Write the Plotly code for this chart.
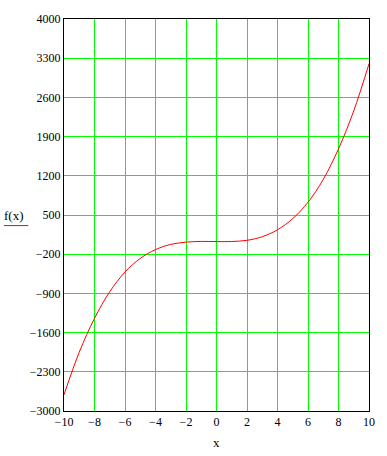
import plotly.graph_objects as go

x_vals = [-10, -9, -8, -7, -6, -5, -4, -3, -2, -1, 0, 1, 2, 3, 4, 5, 6, 7, 8, 9, 10]
f_vals = [-2710, -1950, -1345, -870, -520, -275, -118, -25, 15, 28, 25, 27, 48, 112, 236, 435, 728, 1135, 1680, 2360, 3200]

x_ticks = [-10, -8, -6, -4, -2, 0, 2, 4, 6, 8, 10]
y_ticks = [-3000, -2300, -1600, -900, -200, 500, 1200, 1900, 2600, 3300, 4000]

FONT = "Liberation Serif"
GREEN = "#00ff00"

fig = go.Figure()
fig.add_trace(go.Scatter(
    x=x_vals, y=f_vals, mode="lines",
    line=dict(color="#ff0000", width=1, shape="spline"),
    showlegend=False, hoverinfo="skip",
))

axis_common = dict(
    showline=True, linecolor="black", linewidth=1, mirror=True,
    showgrid=True, gridcolor=GREEN, gridwidth=1,
    zeroline=False, ticks="", tickfont=dict(family=FONT, size=12, color="black"),
)

fig.update_layout(
    width=387, height=456,
    margin=dict(l=64, r=14, t=13, b=45),
    paper_bgcolor="white", plot_bgcolor="white",
    font=dict(family=FONT, size=12, color="black"),
    xaxis=dict(range=[-10, 10], tickvals=x_ticks, **axis_common),
    yaxis=dict(range=[-3000, 4000], tickvals=y_ticks, ticklabeloverflow="allow", **axis_common),
    annotations=[
        dict(text="f(x)", xref="paper", yref="paper", x=-0.163, y=0.5,
             showarrow=False, xanchor="center", yanchor="middle",
             font=dict(family=FONT, size=13, color="black")),
        dict(text="x", xref="x", yref="paper", x=0, y=-0.08,
             showarrow=False, xanchor="center", yanchor="middle",
             font=dict(family=FONT, size=13, color="black")),
    ],
    shapes=[
        dict(type="line", xref="paper", yref="paper", x0=-0.197, x1=-0.117,
             y0=0.473, y1=0.473, line=dict(color="#ff0000", width=1)),
    ],
)

fig.write_html("out.html", config={"displayModeBar": False},
               post_script="document.body.style.margin='0';")
